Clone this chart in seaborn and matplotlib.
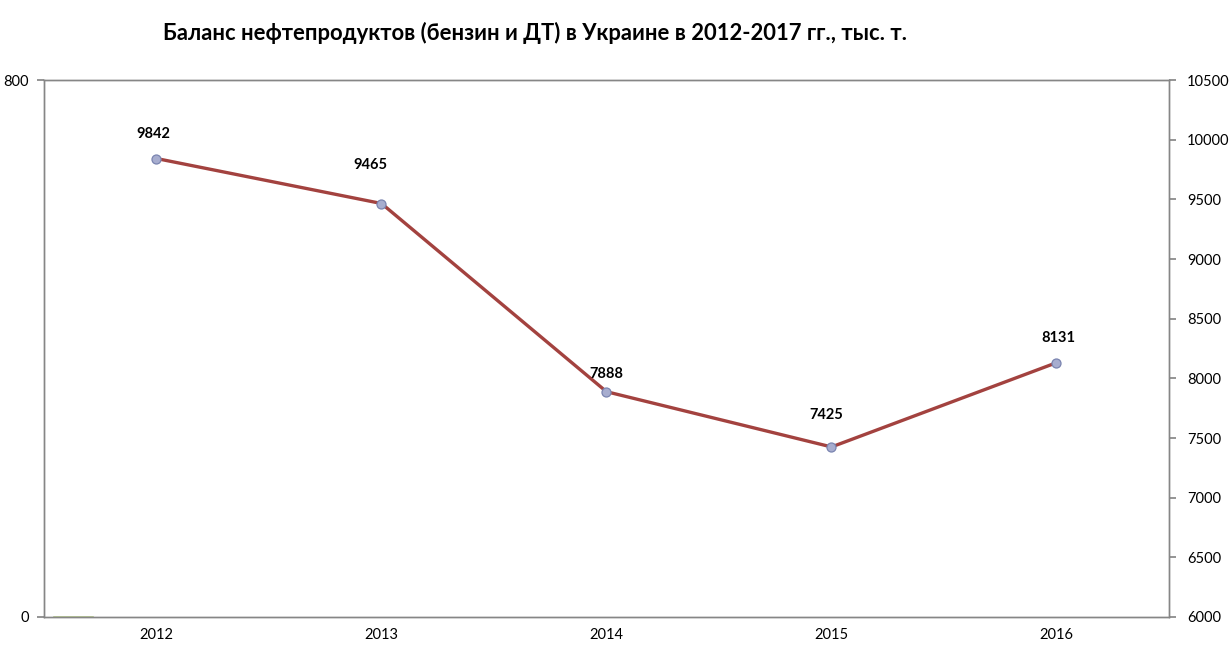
import matplotlib
matplotlib.use("Agg")
import matplotlib.pyplot as plt
import seaborn as sns
import pandas as pd
import numpy as np
from matplotlib.ticker import FixedLocator

years = ["2012", "2013", "2014", "2015", "2016"]
balance = [9842, 9465, 7888, 7425, 8131]
bar_values = [3, 0, 0, 0, 0]  # near-zero series on left axis

title = "Баланс нефтепродуктов (бензин и ДТ) в Украине в 2012-2017 гг., тыс. т."

sns.set_theme(style="white")
plt.rcParams['font.family'] = ['Lato', 'DejaVu Sans']

fig = plt.figure(figsize=(12.31, 6.48), dpi=100)
ax = fig.add_axes([44/1231, 1-617/648, (1169-44)/1231, (617-80)/648])
ax2 = ax.twinx()

df = pd.DataFrame({"year": years, "balance": balance, "bar": bar_values})
pos = np.arange(len(years))

# tiny bar series on the left axis
ax.bar(pos[:1] - 0.373, df["bar"].values[:1], width=0.187, color="#9BBB59", zorder=2)
ax.set_ylim(0, 800)
ax.set_yticks([0, 800])
ax.set_xlim(-0.5, len(years) - 0.5)

line_color = "#A3423F"
sns.lineplot(x=pos, y=df["balance"], ax=ax2, color=line_color, linewidth=2.4,
             marker="o", markersize=6.5, markerfacecolor="#A7ADCF",
             markeredgecolor="#7A84B0", markeredgewidth=0.9, zorder=3)
ax2.set_ylim(6000, 10500)
ax2.set_yticks(np.arange(6000, 10501, 500))
ax2.set_xlim(-0.5, len(years) - 0.5)
ax2.set_ylabel("")

offsets = [(-2, 18), (-8, 28), (0, 13), (-4, 23), (1, 18)]
for i, v in enumerate(balance):
    ax2.annotate(str(v), (pos[i], v), xytext=offsets[i], textcoords="offset points",
                 ha="center", va="center", fontsize=10.5, fontweight="bold", color="black")

ax.set_xticks(pos)
ax.set_xticklabels(years)
ax.xaxis.set_minor_locator(FixedLocator(np.arange(-0.5, len(years), 1.0)))

spine_color = "#868686"
for a in (ax, ax2):
    for s in a.spines.values():
        s.set_color(spine_color)
        s.set_linewidth(1.0)
        s.set_visible(True)
    a.grid(False)

ax.tick_params(axis="x", which="major", length=0, labelsize=10.5, colors="black", pad=8)
ax.tick_params(axis="x", which="minor", length=5, color=spine_color, direction="out")
ax.tick_params(axis="y", length=5, color=spine_color, direction="out", labelsize=10.5,
               labelcolor="black", pad=6)
ax2.tick_params(axis="y", length=5, color=spine_color, direction="out", labelsize=10.5,
                labelcolor="black", pad=8)
ax.set_xlabel("")
ax.set_ylabel("")

fig.text(535/1231, 1-33/648, title, ha="center", va="center", fontsize=15.8,
         fontweight="bold", color="black")

fig.savefig("out.png", dpi=100, facecolor="white")
